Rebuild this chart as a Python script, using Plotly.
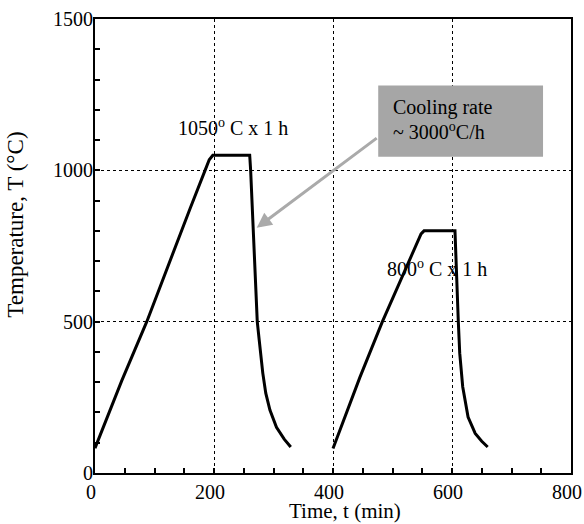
import plotly.graph_objects as go

# Heat-treatment schedule 1: 1050 C x 1 h
t1 = [0, 20, 45, 87, 130, 160, 185, 192, 198, 260, 261.6, 266, 272.7, 276, 282, 287, 294, 305, 318, 329]
T1 = [82, 180, 305, 500, 725, 875, 1000, 1035, 1050, 1050, 1000, 810, 500, 439, 330, 264, 208, 151, 112, 86]

# Heat-treatment schedule 2: 800 C x 1 h
t2 = [400, 420, 445, 483, 510, 535, 548, 553, 605, 610.6, 613, 618, 627, 639, 650, 660]
T2 = [81, 185, 315, 500, 620, 737, 790, 800, 800, 500, 396, 285, 185, 131, 105, 86]

x_ticks = [0, 200, 400, 600, 800]
y_ticks = [0, 500, 1000, 1500]

FONT = "Liberation Serif"

fig = go.Figure()
for t, T in [(t1, T1), (t2, T2)]:
    fig.add_trace(go.Scatter(x=t, y=T, mode="lines",
                             line=dict(color="black", width=3),
                             showlegend=False, hoverinfo="skip"))

tick_style = dict(ticks="inside", ticklen=5, tickwidth=1.5, tickcolor="black")
minor_x = dict(tick0=0, dtick=50, ticks="inside", ticklen=5, tickwidth=1.5,
               tickcolor="black", showgrid=False)
minor_y = dict(tick0=0, dtick=100, ticks="inside", ticklen=5, tickwidth=1.5,
               tickcolor="black", showgrid=False)

fig.update_layout(
    xaxis=dict(range=[0, 800], tickmode="array", tickvals=x_ticks,
               ticktext=[str(v) for v in x_ticks], ticklabelshift=-4,
               showline=True, linecolor="black", linewidth=2, mirror=True,
               showgrid=True, gridcolor="black", gridwidth=1, griddash="dot",
               zeroline=False, ticklabeloverflow="allow", automargin=False,
               tickfont=dict(family=FONT, size=20, color="black"),
               minor=minor_x, **tick_style),
    yaxis=dict(range=[0, 1500], tickmode="array", tickvals=y_ticks,
               ticktext=[str(v) for v in y_ticks], ticklabelstandoff=-4,
               showline=True, linecolor="black", linewidth=2, mirror=True,
               showgrid=True, gridcolor="black", gridwidth=1, griddash="dot",
               zeroline=False, automargin=False,
               tickfont=dict(family=FONT, size=20, color="black"),
               minor=minor_y, **tick_style),
    xaxis2=dict(range=[0, 800], overlaying="x", side="top", anchor="y",
                tickmode="array", tickvals=x_ticks, showticklabels=False,
                showgrid=False, zeroline=False, automargin=False,
                minor=minor_x, **tick_style),
    yaxis2=dict(range=[0, 1500], overlaying="y", side="right", anchor="x",
                tickmode="array", tickvals=y_ticks, showticklabels=False,
                showgrid=False, zeroline=False, automargin=False,
                minor=minor_y, **tick_style),
)

# Axis titles
fig.add_annotation(x=0.526, y=-0.083, xref="paper", yref="paper", text="Time, t (min)",
                   showarrow=False, xanchor="center", yanchor="middle",
                   font=dict(family=FONT, size=21, color="black"))
fig.add_annotation(x=-0.166, y=0.547, xref="paper", yref="paper", text="Temperature, T (°C)",
                   showarrow=False, textangle=-90, xanchor="center", yanchor="middle",
                   font=dict(family=FONT, size=23, color="black"))

# Gray box
fig.add_shape(type="rect", xref="x", yref="y", x0=476, x1=753, y0=1045, y1=1280,
              fillcolor="#a6a6a6", opacity=1, line=dict(width=0), layer="above")

fig.add_annotation(x=271.8, y=810, ax=476, ay=1110, axref="x", ayref="y",
                   xref="x", yref="y", text="", showarrow=True,
                   arrowhead=2, arrowsize=1, arrowwidth=3, arrowcolor="#aaaaaa", standoff=0)

fig.add_annotation(x=497, y=1208, xref="x", yref="y", xanchor="left", yanchor="middle",
                   text="Cooling rate", showarrow=False,
                   font=dict(family=FONT, size=20, color="black"))
fig.add_annotation(x=497, y=1131, xref="x", yref="y", xanchor="left", yanchor="middle",
                   text="~ 3000<sup>o</sup>C/h", showarrow=False,
                   font=dict(family=FONT, size=20, color="black"))

fig.add_annotation(x=232, y=1143, xref="x", yref="y", text="1050<sup>o</sup> C x 1 h",
                   showarrow=False, font=dict(family=FONT, size=20, color="black"))
fig.add_annotation(x=575, y=678, xref="x", yref="y", text="800<sup>o</sup> C x 1 h",
                   showarrow=False, font=dict(family=FONT, size=20, color="black"))

fig.update_layout(template="simple_white",
                  width=584, height=524, margin=dict(l=95, r=13, t=19, b=51),
                  paper_bgcolor="white", plot_bgcolor="white",
                  font=dict(family=FONT, color="black"))

fig.write_html("out.html")
